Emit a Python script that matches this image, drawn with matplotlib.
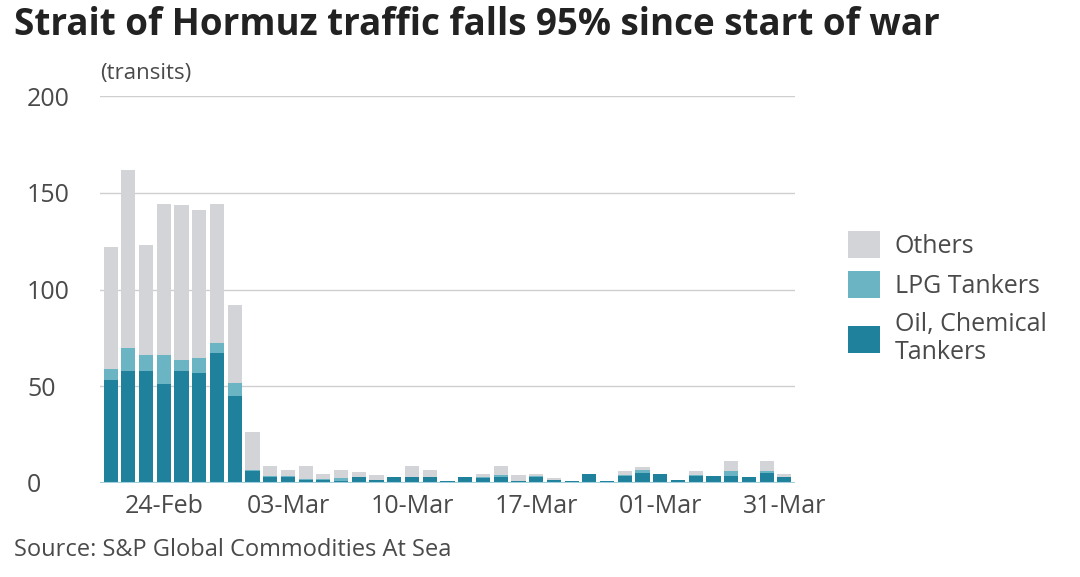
import matplotlib
matplotlib.use("Agg")
import matplotlib.pyplot as plt
import numpy as np

oil = [53,58,58,51,58,57,67,45,6,3,3,1.4,1.7,1.2,3,1.4,3,3,3,1,3,2.6,3,0.9,3,1.7,0.9,4.7,0.9,3.5,5.2,4.7,1.7,3.5,3.5,3.5,3,5.2,3]
lpg = [6,12,8,15,5.5,7.6,5.3,6.6,0.5,0.5,0.5,0.6,0.3,1.4,0,0.2,0,0.3,0,0,0,0.4,1,0.3,0.5,0,0,0,0,0.8,1.7,0,0,0.5,0,2.5,0,0.8,0]
total = [122,162,123,144,143.5,141,144,92,26.4,9,6.9,9,4.8,6.9,5.7,4,3,9,6.9,1.2,3,4.8,9,4,4.8,2.6,0.9,4.7,0.9,6,8.1,4.7,1.7,6,3.5,11.6,3,11.6,4.8]
others = [t - o - l for t, o, l in zip(total, oil, lpg)]
tick_labels = ["24-Feb", "03-Mar", "10-Mar", "17-Mar", "01-Mar", "31-Mar"]
tick_pos = [3, 10, 17, 24, 31, 38]

plt.rcParams['font.family'] = ['Open Sans', 'DejaVu Sans']
fig = plt.figure(figsize=(10.8, 5.77), dpi=100)
ax = fig.add_axes([100/1080, 1-483/577, 695/1080, 387/577])
x = np.arange(len(oil))
c_oil, c_lpg, c_oth = "#1f819b", "#6ab4c4", "#d3d4d8"
w = 0.8
ax.bar(x, oil, w, color=c_oil, label="Oil, Chemical\nTankers")
ax.bar(x, lpg, w, bottom=oil, color=c_lpg, label="LPG Tankers")
ax.bar(x, others, w, bottom=[o + l for o, l in zip(oil, lpg)], color=c_oth, label="Others")
ax.set_xlim(-0.6, 38.6)
ax.set_ylim(0, 200)
ax.set_yticks([0, 50, 100, 150, 200])
ax.yaxis.grid(True, color="#cfcfcf", lw=1)
ax.set_axisbelow(True)
for s in ax.spines.values():
    s.set_visible(False)
ax.axhline(0, color="#9fd0dc", lw=1.5)
ax.tick_params(axis='y', length=0, labelsize=18, colors="#4a4a4a", pad=10)
ax.tick_params(axis='x', length=0, labelsize=18, colors="#4a4a4a", pad=8)
ax.set_xticks(tick_pos)
ax.set_xticklabels(tick_labels)
for lab in ax.get_yticklabels():
    lab.set_horizontalalignment('left')
    lab.set_x(-0.085)
ax.text(0.0, 1.03, "(transits)", transform=ax.transAxes, fontsize=16, color="#4a4a4a", ha='left', va='bottom')
h, l = ax.get_legend_handles_labels()
fig.legend(h[::-1], l[::-1], loc='upper left', bbox_to_anchor=(825/1080, 1-208/577), frameon=False,
           fontsize=18, labelcolor="#4a4a4a", handlelength=1.3, handleheight=1.3, handletextpad=0.6, labelspacing=0.5)
fig.text(14/1080, 1-25/577, "Strait of Hormuz traffic falls 95% since start of war", fontsize=26.5, fontweight='bold', color="#222222", va='center')
fig.text(14/1080, 1-550/577, "Source: S&P Global Commodities At Sea", fontsize=17, color="#4a4a4a", va='center')
fig.savefig("out.png", dpi=100)
